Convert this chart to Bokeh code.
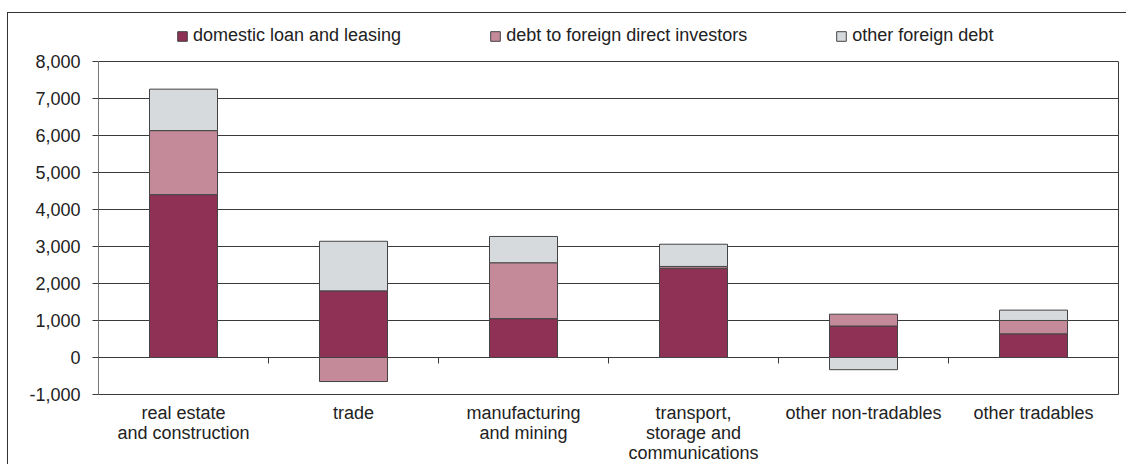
import numpy as np
from bokeh.plotting import figure
from bokeh.models import Range1d, FixedTicker, NumeralTickFormatter, Legend, LegendItem, LinearAxis
from bokeh.embed import file_html
from bokeh.resources import INLINE

categories = ["real estate\nand construction", "trade", "manufacturing\nand mining",
              "transport,\nstorage and\ncommunications", "other non-tradables", "other tradables"]
series_names = ["domestic loan and leasing", "debt to foreign direct investors", "other foreign debt"]
domestic = [4400, 1800, 1050, 2410, 850, 640]
fdi = [1730, -650, 1510, 50, 320, 360]
other = [1120, 1340, 710, 600, -330, 280]
y_ticks = [-1000, 0, 1000, 2000, 3000, 4000, 5000, 6000, 7000, 8000]
colors = ["#8F3055", "#C48A99", "#D6DADD"]

FONT = "Liberation Sans"
DARK = "#3a3a3a"
n = len(categories)
xs = np.arange(n) + 0.5
y_lo, y_hi = y_ticks[0], y_ticks[-1]

# pixel layout: plot area 98..1118 x 61..395; frame extended upward to hold legend
px_per_unit = 334 / (y_hi - y_lo)
frame_top_extra_px = 41
y_top = y_hi + frame_top_extra_px / px_per_unit

p = figure(width=1119, height=452, x_range=Range1d(0, n), y_range=Range1d(y_lo, y_top),
           output_backend="svg", toolbar_location=None,
           min_border_left=90, min_border_right=9, min_border_top=7, min_border_bottom=70)
p.margin = (12, 0, 0, 7)
p.styles = {"border-top": "1px solid #333333", "border-left": "1px solid #333333"}
p.background_fill_color = "white"
p.border_fill_color = "white"
p.outline_line_color = None

pos_base = np.zeros(n)
neg_base = np.zeros(n)
renderers = []
for vals, color in zip([domestic, fdi, other], colors):
    v = np.array(vals, dtype=float)
    bottom = np.where(v >= 0, pos_base, neg_base)
    top = bottom + v
    pos_base = np.where(v >= 0, top, pos_base)
    neg_base = np.where(v < 0, top, neg_base)
    r = p.vbar(x=xs, width=0.4, bottom=bottom, top=top, fill_color=color,
               line_color="#444444", line_width=1)
    renderers.append(r)

# small ticks on the zero line between categories
bounds = np.arange(1, n)
tick_len = 6 / px_per_unit
p.segment(x0=bounds, y0=np.zeros(len(bounds)), x1=bounds, y1=-tick_len * np.ones(len(bounds)),
          line_color=DARK, line_width=1)

legend = Legend(items=[LegendItem(label=nm, renderers=[r]) for nm, r in zip(series_names, renderers)],
                orientation="horizontal", location=(78, 348), spacing=88, padding=0, margin=0,
                border_line_color=None, background_fill_alpha=0, glyph_width=12, glyph_height=12,
                label_standoff=5, label_text_font_size="18px", label_text_font=FONT,
                label_text_color="#222222", label_height=20)
p.add_layout(legend, "center")

p.yaxis.bounds = (y_lo, y_hi)
p.yaxis.ticker = FixedTicker(ticks=y_ticks)
p.yaxis.formatter = NumeralTickFormatter(format="0,0")
p.yaxis.major_tick_out = 6
p.yaxis.major_tick_in = 0
p.yaxis.minor_tick_line_color = None
p.yaxis.major_label_standoff = 12
p.yaxis.major_label_text_font = FONT
p.yaxis.major_label_text_font_size = "18px"
p.yaxis.major_label_text_color = "#222222"
p.yaxis.axis_line_color = "#777777"
p.yaxis.major_tick_line_color = DARK

right_axis = LinearAxis(bounds=(y_lo, y_hi), ticker=FixedTicker(ticks=[]),
                        major_tick_line_color=None, minor_tick_line_color=None,
                        major_label_text_font_size="0px", axis_line_color=DARK)
p.add_layout(right_axis, "right")

p.xaxis.ticker = FixedTicker(ticks=list(xs))
p.xaxis.major_label_overrides = {float(x): c for x, c in zip(xs, categories)}
p.xaxis.major_tick_line_color = None
p.xaxis.minor_tick_line_color = None
p.xaxis.axis_line_color = DARK
p.xaxis.major_label_standoff = 2
p.xaxis.major_label_text_font = FONT
p.xaxis.major_label_text_font_size = "18px"
p.xaxis.major_label_text_color = "#222222"
p.xaxis.major_label_text_line_height = 1.0

p.xgrid.visible = False
p.ygrid.ticker = FixedTicker(ticks=y_ticks)
p.ygrid.grid_line_color = DARK

open("out.html", "w").write(file_html(p, INLINE))
